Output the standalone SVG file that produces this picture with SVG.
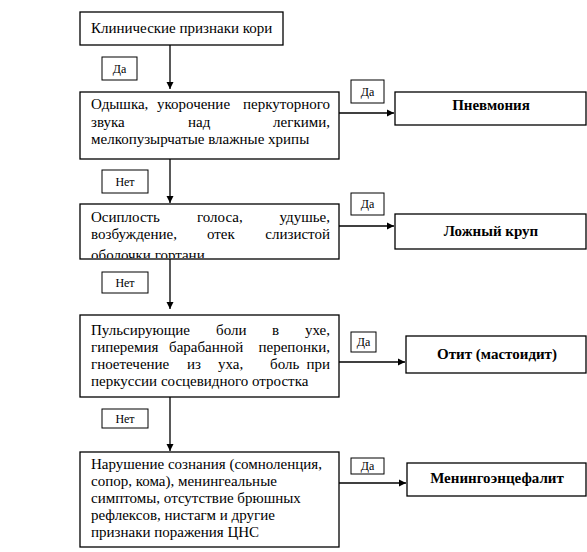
<svg xmlns="http://www.w3.org/2000/svg" width="587" height="552" viewBox="0 0 587 552">
<style>
text{font-family:"Liberation Serif","Times New Roman",serif;fill:#000}
.box{fill:#fff;stroke:#000;stroke-width:1.3}
.lbl{fill:#fff;stroke:#000;stroke-width:1}
.t{font-size:15px}
.s{font-size:12px}
.b{font-size:15px;font-weight:bold}
.e{text-anchor:end}
.m{text-anchor:middle}
.ln{stroke:#000;stroke-width:1.3;fill:none}
</style>
<defs>
<marker id="ah" markerWidth="8" markerHeight="8" refX="7" refY="4" orient="auto" markerUnits="userSpaceOnUse">
<path d="M0,0.5 L7,4 L0,7.5 Z" fill="#000"/>
</marker>
<clipPath id="c3"><rect x="80" y="204" width="259" height="54"/></clipPath>
</defs>
<rect width="587" height="552" fill="#fff"/>
<g id="connectors">
<line class="ln" x1="170" y1="45" x2="170" y2="89" marker-end="url(#ah)"/>
<line class="ln" x1="170" y1="159" x2="170" y2="203" marker-end="url(#ah)"/>
<line class="ln" x1="170" y1="259" x2="170" y2="309" marker-end="url(#ah)"/>
<line class="ln" x1="170" y1="397" x2="170" y2="451" marker-end="url(#ah)"/>
<line class="ln" x1="339" y1="113" x2="394" y2="113" marker-end="url(#ah)"/>
<line class="ln" x1="339" y1="226" x2="394" y2="226" marker-end="url(#ah)"/>
<line class="ln" x1="339" y1="362" x2="405" y2="362" marker-end="url(#ah)"/>
<line class="ln" x1="339" y1="483" x2="406" y2="483" marker-end="url(#ah)"/>
</g>
<g id="labels">
<g id="lbl-yes1"><rect class="lbl" x="102" y="57" width="35" height="23"/><text class="s m" x="119.5" y="73">Да</text></g>
<g id="lbl-yes2"><rect class="lbl" x="351" y="80" width="33" height="23"/><text class="s m" x="367.5" y="96">Да</text></g>
<g id="lbl-no1"><rect class="lbl" x="102" y="170" width="46" height="23"/><text class="s m" x="125" y="186">Нет</text></g>
<g id="lbl-yes3"><rect class="lbl" x="351" y="193" width="33" height="22"/><text class="s m" x="367.5" y="208">Да</text></g>
<g id="lbl-no2"><rect class="lbl" x="102" y="272" width="46" height="21"/><text class="s m" x="125" y="287">Нет</text></g>
<g id="lbl-yes4"><rect class="lbl" x="351" y="332" width="25" height="20"/><text class="s m" x="363.5" y="346">Да</text></g>
<g id="lbl-no3"><rect class="lbl" x="102" y="409" width="46" height="19"/><text class="s m" x="125" y="423">Нет</text></g>
<g id="lbl-yes5"><rect class="lbl" x="351" y="458" width="33" height="16"/><text class="s m" x="367.5" y="470">Да</text></g>
</g>
<g id="n1">
<rect class="box" x="80" y="12" width="203" height="33"/>
<text class="t" x="91" y="33">Клинические признаки кори</text>
</g>
<g id="n2">
<rect class="box" x="80" y="92" width="259" height="67"/>
<text class="t" x="91" y="109">Одышка,</text><text class="t" x="157" y="109">укорочение</text><text class="t e" x="330" y="109">перкуторного</text>
<text class="t" x="91" y="127">звука</text><text class="t" x="188" y="127">над</text><text class="t e" x="330" y="127">легкими,</text>
<text class="t" x="91" y="144">мелкопузырчатые влажные хрипы</text>
</g>
<g id="n3">
<rect class="box" x="80" y="204" width="259" height="55"/>
<text class="t" x="91" y="222">Осиплость</text><text class="t" x="197" y="222">голоса,</text><text class="t e" x="330" y="222">удушье,</text>
<text class="t" x="91" y="239">возбуждение,</text><text class="t" x="207" y="239">отек</text><text class="t e" x="330" y="239">слизистой</text>
<text class="t" x="91" y="260" clip-path="url(#c3)">оболочки гортани</text>
</g>
<g id="n4">
<rect class="box" x="80" y="315" width="259" height="82"/>
<text class="t" x="91" y="335">Пульсирующие</text><text class="t" x="216" y="335">боли</text><text class="t" x="272" y="335">в</text><text class="t e" x="330" y="335">ухе,</text>
<text class="t" x="91" y="352">гиперемия</text><text class="t" x="169" y="352">барабанной</text><text class="t e" x="330" y="352">перепонки,</text>
<text class="t" x="91" y="369">гноетечение</text><text class="t" x="187" y="369">из</text><text class="t" x="218" y="369">уха,</text><text class="t" x="270" y="369">боль</text><text class="t e" x="330" y="369">при</text>
<text class="t" x="91" y="386">перкуссии сосцевидного отростка</text>
</g>
<g id="n5">
<rect class="box" x="80" y="452" width="259" height="95"/>
<text class="t" x="91" y="469">Нарушение сознания (сомноленция,</text>
<text class="t" x="91" y="486">сопор, кома), менингеальные</text>
<text class="t" x="91" y="503">симптомы, отсутствие брюшных</text>
<text class="t" x="91" y="520">рефлексов, нистагм и другие</text>
<text class="t" x="91" y="537">признаки поражения ЦНС</text>
</g>
<g id="d1">
<rect class="box" x="395" y="92" width="191" height="33"/>
<text class="b m" x="491" y="110">Пневмония</text>
</g>
<g id="d2">
<rect class="box" x="395" y="214" width="191" height="35"/>
<text class="b m" x="491" y="236">Ложный круп</text>
</g>
<g id="d3">
<rect class="box" x="406" y="336" width="180" height="37"/>
<text class="b m" x="497" y="359">Отит (мастоидит)</text>
</g>
<g id="d4">
<rect class="box" x="407" y="463" width="179" height="33"/>
<text class="b m" x="497" y="483">Менингоэнцефалит</text>
</g>
</svg>
